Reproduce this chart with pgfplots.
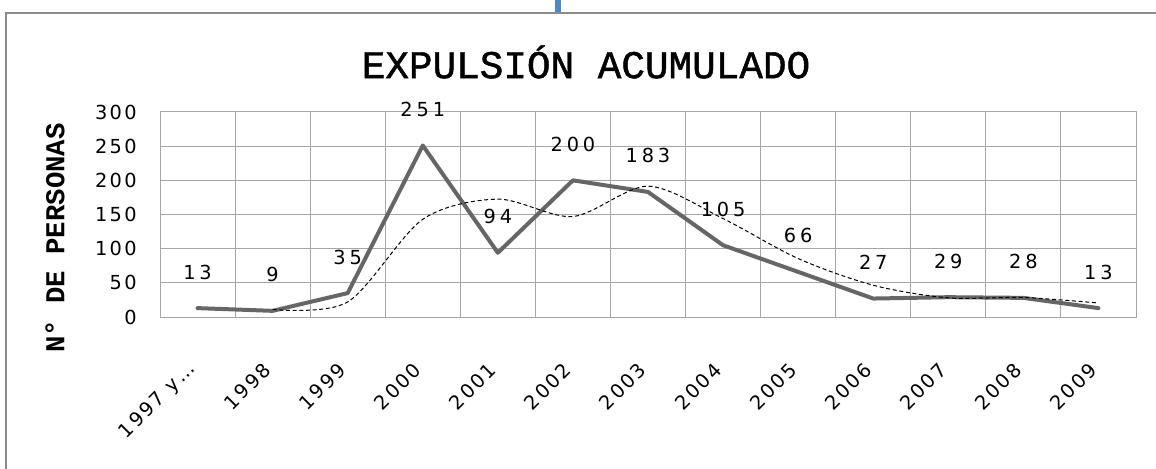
\documentclass[border=0pt]{standalone}
\usepackage{fontspec}
\usepackage{pgfplots}
\pgfplotsset{compat=1.18}
\newfontfamily\dvfont{DejaVu Sans}[LetterSpace=12]
\newfontfamily\monofont{Liberation Mono}
\newfontfamily\titlefont{Liberation Mono}[FakeBold=1.2]
\definecolor{linegray}{HTML}{666666}
\definecolor{gridgray}{HTML}{A6A6A6}
\definecolor{framegray}{HTML}{8C8C8C}
\definecolor{cursorblue}{HTML}{4F86C6}
\begin{document}
\begin{tikzpicture}[x=0.75pt,y=0.75pt]
\useasboundingbox (0,0) rectangle (1156,468);
\fill[white] (0,0) rectangle (1156,468);
\draw[framegray, line width=1.5pt] (6,-20) -- (6,455) -- (1180,455);
\fill[cursorblue] (555,456) rectangle (561,468);
\node[font=\titlefont\fontsize{29.5}{32}\selectfont] at (586,406) {EXPULSIÓN ACUMULADO};
\node[font=\monofont\bfseries\fontsize{20.5}{22}\selectfont, rotate=90] at (55,230) {N° DE PERSONAS};
\begin{axis}[
 at={(120pt,113.25pt)}, anchor=south west, scale only axis,
 width=732pt, height=153.75pt,
 xmin=-0.5, xmax=12.5, ymin=0, ymax=300,
 ytick={0,50,...,300},
 xtick={0,...,12},
 xticklabels={1997 y…,1998,1999,2000,2001,2002,2003,2004,2005,2006,2007,2008,2009},
 minor xtick={-0.5,0.5,...,12.5},
 xminorgrids, ymajorgrids,
 major tick length=0pt, minor tick length=0pt,
 grid style={gridgray, line width=0.75pt},
 minor grid style={gridgray, line width=0.75pt},
 axis line style={gridgray, line width=0.75pt},
 tick label style={font=\dvfont\fontsize{14.5}{16}\selectfont},
 /pgf/number format/assume math mode=true,
 xticklabel style={xshift=-1.5pt, yshift=-34.5pt, rotate=45, anchor=east},
 yticklabel style={xshift=-14pt},
 clip=false,
]
\addplot[linegray, line width=3pt, line join=round, line cap=round,
  nodes near coords, point meta=y,
  every node near coord/.append style={font=\dvfont\addfontfeature{LetterSpace=20}\fontsize{14.5}{16}\selectfont, text=black, anchor=center, yshift=27pt}]
 coordinates {(0,13)(1,9)(2,35)(3,251)(4,94)(5,200)(6,183)(7,105)(8,66)(9,27)(10,29)(11,28)(12,13)};
\addplot[black, line width=0.75pt, dash pattern=on 3pt off 2pt, smooth, tension=0.5]
 coordinates {(1,11)(2,22)(3,143)(4,172.5)(5,147)(6,191.5)(7,144)(8,85.5)(9,46.5)(10,28)(11,28.5)(12,20.5)};
\end{axis}
\end{tikzpicture}
\end{document}
